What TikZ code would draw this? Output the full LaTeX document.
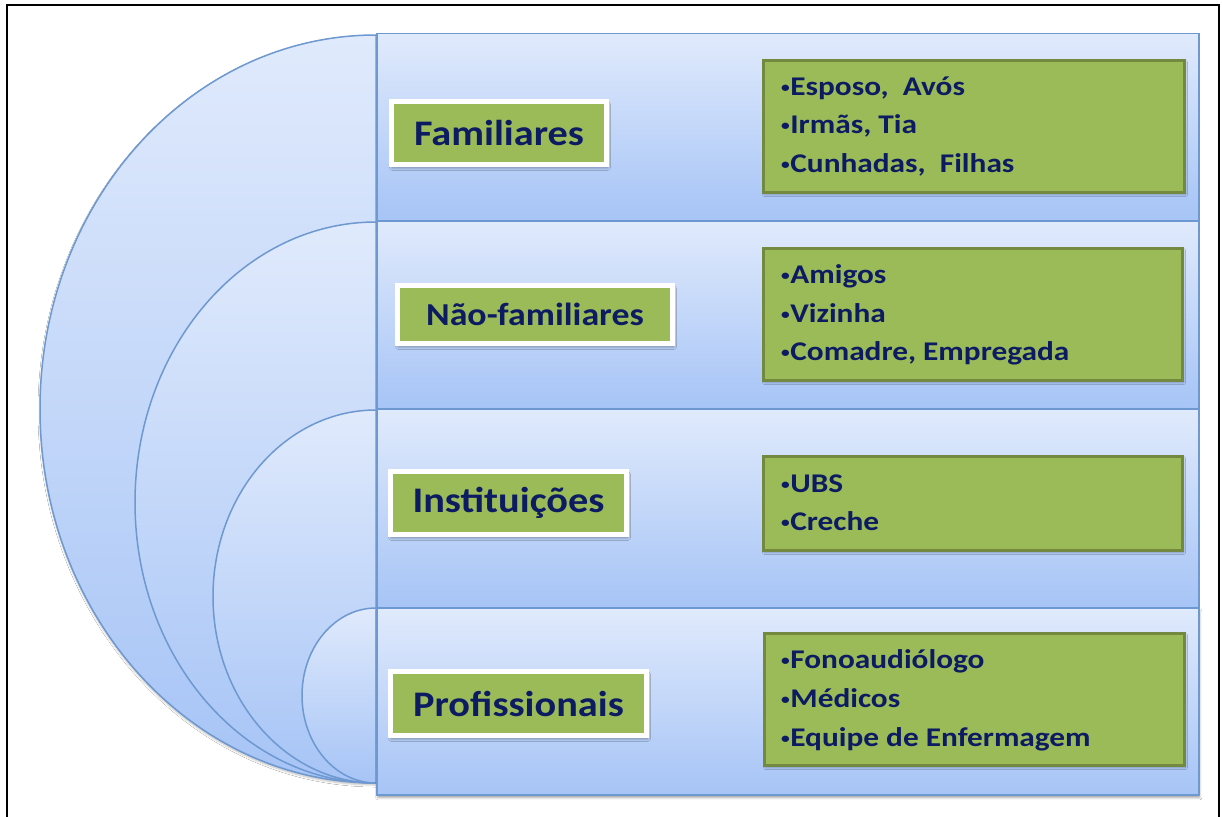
\documentclass[tikz,border=0pt]{standalone}
\usepackage{fontspec}
\setmainfont{Carlito}
\newfontfamily\labfont[FakeStretch=1.12]{Carlito}
\newfontfamily\itemfont[FakeStretch=1.16]{Carlito}
\usetikzlibrary{shadows.blur}
\definecolor{bandtop}{HTML}{E0EAFC}
\definecolor{bandbot}{HTML}{A6C4F6}
\definecolor{edgeblue}{HTML}{6E98D0}
\definecolor{lime}{HTML}{9BBB59}
\definecolor{limedark}{HTML}{72893F}
\definecolor{navy}{HTML}{0D1C62}
\newcommand\smallbul{\raisebox{2.5pt}{\fontsize{15}{15}\selectfont•}\hspace{0.5pt}}
\begin{document}
\begin{tikzpicture}[x=1pt,y=-1pt,
  band/.style={draw=edgeblue, line width=1.5pt, top color=bandtop, bottom color=bandbot,
    minimum width=822pt, anchor=north west, inner sep=0pt},
  arcfill/.style={draw=edgeblue, line width=1.5pt, top color=bandtop, bottom color=bandbot},
  lab/.style={fill=lime, draw=white, line width=5pt, text=navy,
    font=\labfont\fontsize{36}{40}\selectfont\bfseries, inner sep=0pt,
    blur shadow={shadow xshift=1pt, shadow yshift=-3pt, shadow blur radius=3pt, shadow opacity=40}},
  listbox/.style={fill=lime, draw=limedark, line width=3pt, anchor=north west, inner sep=0pt,
    blur shadow={shadow xshift=1pt, shadow yshift=-2pt, shadow blur radius=2pt, shadow opacity=30}},
  item/.style={text=navy, font=\itemfont\fontsize{27}{30}\selectfont\bfseries, inner sep=0pt, anchor=base west}]
\useasboundingbox (0,0) rectangle (1222,816);
\fill[white] (0,0) rectangle (1222,816);
% frame
\draw[line width=2pt] (7,817) -- (7,5) -- (1219,5) -- (1219,817);
% nested arcs
\path[arcfill, blur shadow={shadow xshift=0pt, shadow yshift=-2pt, shadow blur radius=2pt, shadow opacity=25}] (376,35) arc[start angle=90, end angle=270, x radius=336pt, y radius=374pt] -- cycle;
\path[arcfill] (376,222) arc[start angle=90, end angle=270, x radius=241pt, y radius=280.5pt] -- cycle;
\path[arcfill] (376,410) arc[start angle=90, end angle=270, x radius=163pt, y radius=186.5pt] -- cycle;
\path[arcfill] (376,608) arc[start angle=90, end angle=270, x radius=74pt, y radius=87.5pt] -- cycle;
% bands
\node[band, minimum height=187pt] (b1) at (376,33) {};
\node[band, minimum height=188pt] (b2) at (376,220) {};
\node[band, minimum height=199pt] (b3) at (376,408) {};
\node[band, minimum height=187pt, blur shadow={shadow xshift=1pt, shadow yshift=-3pt, shadow blur radius=2pt, shadow opacity=35}] (b4) at (376,607) {};
% labels
\node[lab, minimum width=215pt, minimum height=63pt] (l1) at (499,133) {Familiares};
\node[lab, minimum width=275pt, minimum height=58pt, font=\labfont\fontsize{32}{36}\selectfont\bfseries] (l2) at (535,314.5) {Não-familiares};
\node[lab, minimum width=236pt, minimum height=63pt] (l3) at (508.5,503) {Instituições};
\node[lab, minimum width=256pt, minimum height=64pt] (l4) at (518.5,703.5) {Profissionais};
% list boxes
\node[listbox, minimum width=421pt, minimum height=132pt] (g1) at (762,59) {};
\node[listbox, minimum width=419pt, minimum height=132pt] (g2) at (762,247) {};
\node[listbox, minimum width=419pt, minimum height=94pt] (g3) at (762,455) {};
\node[listbox, minimum width=420pt, minimum height=132pt] (g4) at (763,632) {};
% items
\node[item] (f1) at (781,95) {\smallbul Esposo,\ \ Avós};
\node[item] (f2) at (781,133) {\smallbul Irmãs, Tia};
\node[item] (f3) at (781,172) {\smallbul Cunhadas,\ \ Filhas};
\node[item] (n1) at (781,283) {\smallbul Amigos};
\node[item] (n2) at (781,322) {\smallbul Vizinha};
\node[item] (n3) at (781,360) {\smallbul Comadre, Empregada};
\node[item] (i1) at (781,492) {\smallbul UBS};
\node[item] (i2) at (781,530) {\smallbul Creche};
\node[item] (p1) at (781,668) {\smallbul Fonoaudiólogo};
\node[item] (p2) at (781,707) {\smallbul Médicos};
\node[item] (p3) at (781,746) {\smallbul Equipe de Enfermagem};
\end{tikzpicture}
\end{document}
